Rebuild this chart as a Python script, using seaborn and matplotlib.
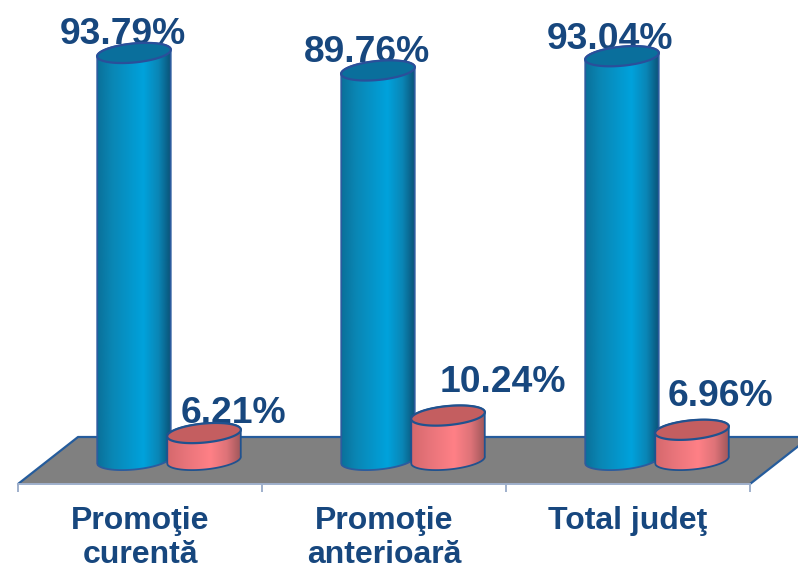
import numpy as np
import pandas as pd
import seaborn as sns
import matplotlib
matplotlib.use("Agg")
import matplotlib.pyplot as plt
from matplotlib.colors import LinearSegmentedColormap
from matplotlib.patches import Polygon, PathPatch
from matplotlib.path import Path

categories = ["Promoţie\ncurentă", "Promoţie\nanterioară", "Total judeţ"]
promovati = [93.79, 89.76, 93.04]
nepromovati = [6.21, 10.24, 6.96]
series_names = ["promovati", "nepromovati"]

W, H = 798, 569
TEXT = "#17477E"
sns.set_theme(style="white")
plt.rcParams["font.family"] = ["Liberation Sans", "DejaVu Sans"]
plt.rcParams["font.weight"] = "bold"

df = pd.DataFrame({
    "cat": categories * 2,
    "serie": [series_names[0]] * 3 + [series_names[1]] * 3,
    "val": promovati + nepromovati,
})

fig = plt.figure(figsize=(W / 100, H / 100), dpi=100, facecolor="white")

# floor with category axis
fx0, fx1, fy0, fy1 = 18, 750, 484, 437
axf = fig.add_axes([fx0 / W, 1 - fy0 / H, (fx1 - fx0) / W, (fy0 - fy1) / H])
axf.set_xlim(-0.5, 2.5)
axf.set_ylim(0, 1)
sk = 60 / (fx1 - fx0)
axf.add_patch(Polygon([(0, 0), (1, 0), (1 + sk, 1), (sk, 1)], closed=True, transform=axf.transAxes,
                      facecolor="#808080", edgecolor="none", clip_on=False))
axf.plot([0, sk, 1 + sk], [0, 1, 1], transform=axf.transAxes, color="#255C9C", lw=1.6, clip_on=False)
axf.plot([1, 1 + sk], [0, 1], transform=axf.transAxes, color="#255C9C", lw=1.6, clip_on=False)
for s in ["top", "left", "right"]:
    axf.spines[s].set_visible(False)
axf.spines["bottom"].set_color("#9FB0CC")
axf.spines["bottom"].set_linewidth(1.4)
axf.set_yticks([])
axf.set_xticks([0, 1, 2])
axf.set_xticklabels(categories, fontsize=23, color=TEXT, fontweight="bold", linespacing=1.18)
axf.set_xticks([-0.5, 0.5, 1.5, 2.5], minor=True)
axf.tick_params(axis="x", which="minor", length=5.8, width=1.4, color="#9FB0CC", bottom=True)
axf.tick_params(axis="x", which="major", length=0, pad=16)

# bars: axes extends below the zero line so the rounded base stays visible
bx0 = fx0 + 29
base_y = 460
ppu = 4.34
below = 5
ax = fig.add_axes([bx0 / W, 1 - (base_y + below * ppu) / H, (fx1 - fx0) / W, (100 + below) * ppu / H])
ax.patch.set_alpha(0)
sns.barplot(data=df, x="cat", y="val", hue="serie", order=categories, hue_order=series_names,
            width=0.574, gap=-0.057, dodge=True, legend=False, ax=ax)
ax.set_xlim(-0.5, 2.5)
ax.set_ylim(-below, 100)
ax.axis("off")

pxx = (fx1 - fx0) / 3.0
b_px, phi = 9.5, np.deg2rad(5.5)


def ellipse(cx, y, a_px, t):
    px = a_px * np.cos(t) * np.cos(phi) - b_px * np.sin(t) * np.sin(phi)
    py = a_px * np.cos(t) * np.sin(phi) + b_px * np.sin(t) * np.cos(phi)
    return cx + px / pxx, y + py / ppu


blue_cm = LinearSegmentedColormap.from_list("b", [(0, "#0A7099"), (0.2, "#0A86B4"), (0.62, "#00A2DC"),
                                                  (0.82, "#0A86B6"), (1, "#0A4F72")])
red_cm = LinearSegmentedColormap.from_list("r", [(0, "#D5686C"), (0.25, "#E8747A"), (0.58, "#FF8086"),
                                                 (0.8, "#DE7378"), (1, "#9A5558")])
grad = np.linspace(0, 1, 256)[None, :]

bars = [p for p in ax.patches if p.get_height() > 0]
for i, p in enumerate(bars):
    p.set_visible(False)
    blue = i < 3
    cx = p.get_x() + p.get_width() / 2
    w = p.get_width()
    a_px = w * pxx / 2
    h = p.get_height()
    t1 = np.linspace(np.pi + 0.05, 2 * np.pi + 0.05, 50)   # lower half, bottom ellipse
    t2 = np.linspace(0.05, np.pi + 0.05, 50)               # upper half, top ellipse
    xb, yb = ellipse(cx, 0, a_px, t1)
    xt, yt = ellipse(cx, h, a_px, t2)
    verts = np.r_[np.c_[xb, yb], np.c_[xt, yt], [[xb[0], yb[0]]]]
    path = Path(verts, closed=False)
    z = 3 + i
    shape = PathPatch(path, facecolor="none", edgecolor="#2C5C9E" if blue else "#20528F",
                      lw=1.3, zorder=z + 0.3, clip_on=False)
    ax.add_patch(shape)
    im = ax.imshow(grad, cmap=blue_cm if blue else red_cm, aspect="auto",
                   extent=[cx - w / 2, cx + w / 2, -below, h + 5], zorder=z)
    im.set_clip_path(PathPatch(path, transform=ax.transData))
    tt = np.linspace(0, 2 * np.pi, 100)
    xe, ye = ellipse(cx, h, a_px, tt)
    ax.add_patch(Polygon(np.c_[xe, ye], closed=True, facecolor="#0A6F9C" if blue else "#C45E60",
                         edgecolor="#2A4F9A" if blue else "#20528F", lw=1.6,
                         zorder=z + 0.5, clip_on=False))

ax.set_xlim(-0.5, 2.5)
ax.set_ylim(-below, 100)

# value labels (offsets in px from top ellipse centre)
offsets = [(-11, 9), (-11, 8), (-12, 7), (29, 10), (55, 24), (28, 24)]
for i, (p, off) in enumerate(zip(bars, offsets)):
    cx = p.get_x() + p.get_width() / 2
    ax.annotate(f"{p.get_height():.2f}%", (cx, p.get_height()),
                xytext=(off[0] * 0.72, off[1] * 0.72), textcoords="offset points",
                ha="center", va="baseline", fontsize=26.8, fontweight="bold", color=TEXT,
                annotation_clip=False, zorder=2)

fig.savefig("out.png", dpi=100, facecolor="white")
